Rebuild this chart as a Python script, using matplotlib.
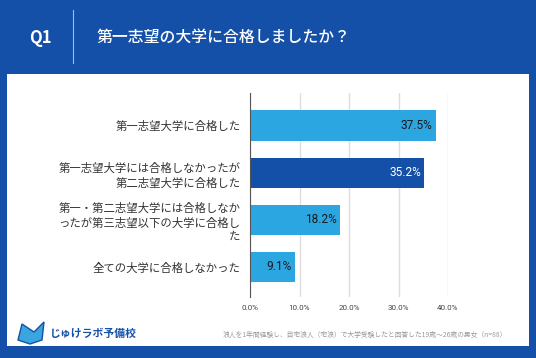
import matplotlib.pyplot as plt
from matplotlib.patches import Rectangle, Polygon
import numpy as np

plt.rcParams['font.family'] = ['Noto Sans CJK JP', 'DejaVu Sans']

categories = ['第一志望大学に合格した',
              '第一志望大学には合格しなかったが\n第二志望大学に合格した',
              '第一・第二志望大学には合格しなか\nったが第三志望以下の大学に合格し\nた',
              '全ての大学に合格しなかった']
values = [37.5, 35.2, 18.2, 9.1]
bar_colors = ['#2ca6e0', '#1550a8', '#2ca6e0', '#2ca6e0']
label_colors = ['#1a1a1a', 'white', '#1a1a1a', '#1a1a1a']
xticks = [0, 10, 20, 30, 40]

W, H = 536, 358
blue = '#1550a8'
fig = plt.figure(figsize=(W / 100, H / 100), dpi=100)
fig.patch.set_facecolor(blue)

# white panel
fig.patches.append(Rectangle((7 / W, 1 - 346 / H), (529 - 7) / W, (346 - 74) / H,
                             transform=fig.transFigure, facecolor='white', edgecolor='none',
                             zorder=-5))
# header
fig.text(40 / W, 1 - 38 / H, 'Q1', color='white', fontsize=12, fontweight='bold',
         ha='center', va='center')
fig.add_artist(plt.Line2D([73 / W, 73 / W], [1 - 10 / H, 1 - 63 / H],
                          transform=fig.transFigure, color='#aab8d8', lw=0.8))
fig.text(97 / W, 1 - 37 / H, '第一志望の大学に合格しましたか？', color='white', fontsize=11.4,
         fontweight='medium', ha='left', va='center')

ax = fig.add_axes([250 / W, 1 - 297 / H, 198 / W, 204 / H])
ax.set_zorder(2)
y = np.arange(len(categories))
bars = ax.barh(y, values, height=0.64, color=bar_colors, zorder=3)
for i, (v, c) in enumerate(zip(values, label_colors)):
    ax.text(v - 0.7, i, f'{v}%', ha='right', va='center', color=c, fontsize=8.6,
            family=['Roboto', 'DejaVu Sans'], zorder=4)
ax.set_xlim(0, 40)
ax.set_ylim(3.64, -0.69)
ax.set_yticks(y)
ax.set_yticklabels(categories, fontsize=8.2, color='#333333', linespacing=1.4,
                   multialignment='right')
ax.set_xticks(xticks)
ax.set_xticklabels([f'{t:.1f}%' for t in xticks], fontsize=5.8, color='#444444',
                   family=['Roboto', 'DejaVu Sans'])
ax.tick_params(axis='y', length=0, pad=7)
ax.tick_params(axis='x', length=0, pad=6)
ax.grid(axis='x', color='#dddddd', lw=1, zorder=0)
for s in ['top', 'right', 'bottom']:
    ax.spines[s].set_visible(False)
ax.spines['left'].set_color('#555555')
ax.spines['left'].set_linewidth(0.8)
ax.spines['left'].set_zorder(5)

# logo
fig.patches.append(Polygon([[18 / W, 1 - 340 / H], [22 / W, 1 - 324 / H], [34 / W, 1 - 332 / H],
                            [44 / W, 1 - 322 / H], [42 / W, 1 - 340 / H], [30 / W, 1 - 344 / H]],
                           closed=True, transform=fig.transFigure, facecolor='#3aa6e0',
                           edgecolor='#1550a8', lw=1))
fig.text(50 / W, 1 - 334 / H, 'じゅけラボ予備校', color='#1550a8', fontsize=7.8,
         fontweight='bold', ha='left', va='center')
fig.text(507 / W, 1 - 335 / H,
         '浪人を1年間経験し、自宅浪人（宅浪）で大学受験したと回答した19歳～26歳の男女（n=88）',
         color='#999999', fontsize=4.9, ha='right', va='center')

fig.savefig('out.png', dpi=100, facecolor=blue)
